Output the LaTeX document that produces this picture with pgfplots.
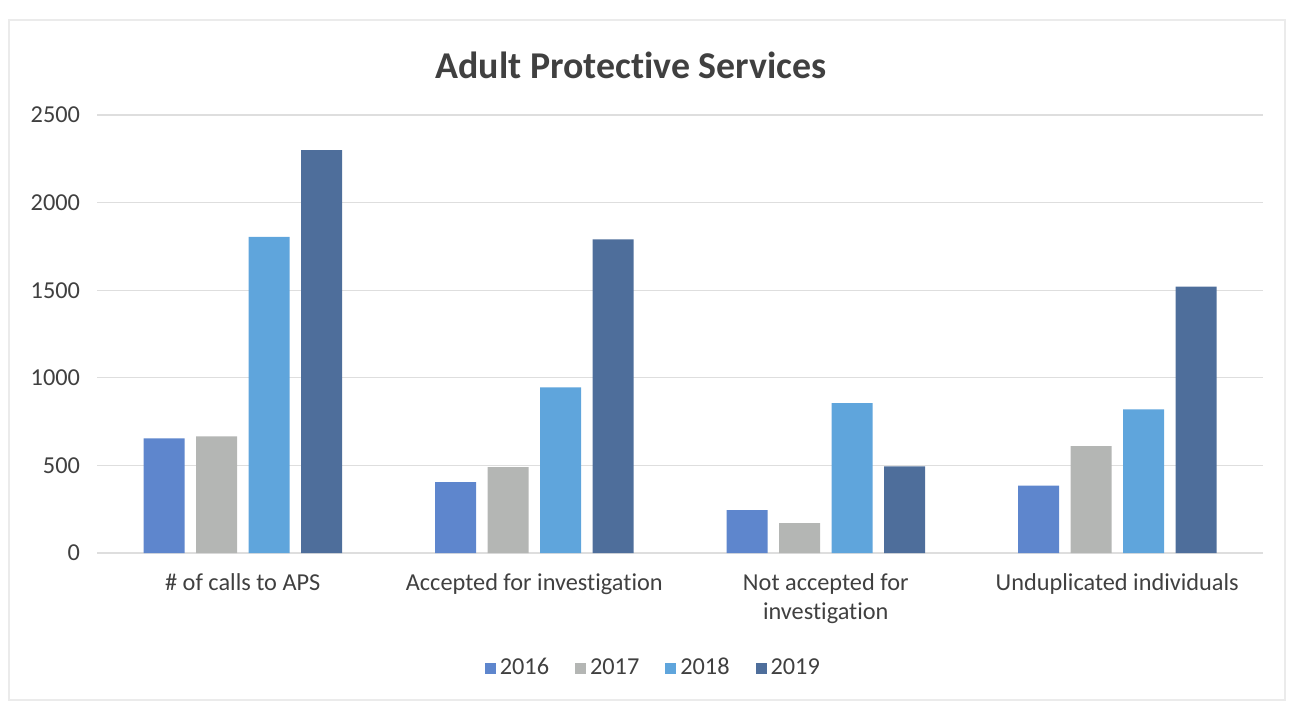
\documentclass[border=0pt]{standalone}
\usepackage{pgfplots}
\pgfplotsset{compat=1.18}
\usepackage{fontspec}
\setmainfont{Carlito}[Ligatures=NoCommon]
\definecolor{cA}{RGB}{94,134,205}
\definecolor{cB}{RGB}{180,182,180}
\definecolor{cC}{RGB}{95,165,220}
\definecolor{cD}{RGB}{78,110,155}
\definecolor{txt}{RGB}{64,64,64}
\definecolor{grid}{RGB}{222,222,222}
\begin{document}
\begin{tikzpicture}[x=1bp,y=1bp]
\path[use as bounding box] (0,0) rectangle (646,352);
\draw[color=black!8, line width=0.6bp] (4.5,2) rectangle (642.5,342);
\node[font=\fontsize{19}{23}\selectfont\bfseries, text=txt] at (315.5,319.5) {Adult Protective Services};
\begin{axis}[
  at={(48.5bp,75.5bp)}, anchor=south west,
  scale only axis, width=583bp, height=219bp,
  ymin=0, ymax=2500, ytick={0,500,...,2500},
  xmin=-0.5, xmax=3.5,
  ybar=5.75bp, bar width=20.5bp,
  axis line style={draw=none},
  major tick length=0pt,
  ymajorgrids, grid style={color=grid, line width=0.6bp},
  xtick={0,1,2,3},
  xticklabels={\# of calls to APS, Accepted for investigation, {Not accepted for\\investigation}, Unduplicated individuals},
  xticklabel style={align=center, font=\fontsize{12.2}{14.5}\selectfont, text=txt, yshift=-7bp},
  yticklabel style={font=\fontsize{12.2}{14.5}\selectfont, text=txt, xshift=-5bp},
  /pgf/number format/assume math mode=true,
  /pgf/number format/1000 sep={},
  legend columns=4,
  legend style={at={(0.478,-0.2626)}, anchor=center, draw=none, fill=none,
    font=\fontsize{12.2}{14.5}\selectfont, text=txt,
    /tikz/every even column/.append style={column sep=11bp}},
  legend image code/.code={\fill[#1] (0bp,-2.75bp) rectangle (5.5bp,2.75bp);},
]
\addplot[fill=cA, draw=none] coordinates {(0,655) (1,405) (2,245) (3,385)};
\addplot[fill=cB, draw=none] coordinates {(0,665) (1,490) (2,170) (3,610)};
\addplot[fill=cC, draw=none] coordinates {(0,1805) (1,945) (2,855) (3,820)};
\addplot[fill=cD, draw=none] coordinates {(0,2300) (1,1790) (2,495) (3,1520)};
\legend{2016,2017,2018,2019}
\end{axis}
\end{tikzpicture}
\end{document}
